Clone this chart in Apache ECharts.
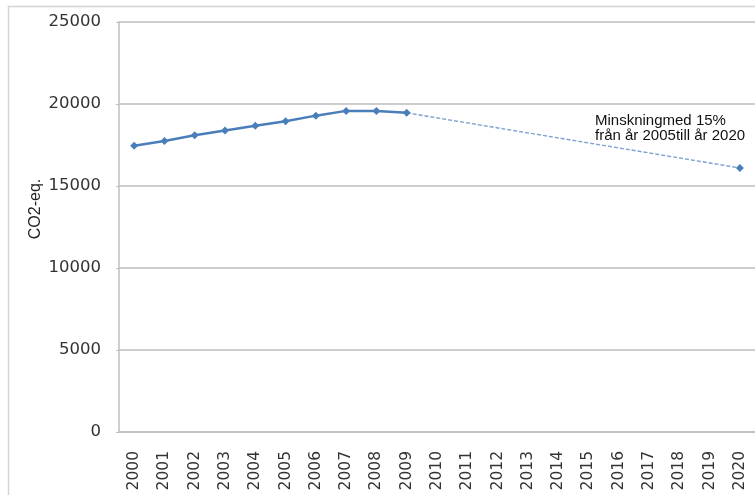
<!DOCTYPE html>
<html>
<head>
<meta charset="utf-8">
<script src="https://cdn.jsdelivr.net/npm/echarts@6/dist/echarts.min.js"></script>
<style>
  html, body { margin: 0; padding: 0; background: #ffffff; }
  #chart { width: 755px; height: 495px; }
</style>
</head>
<body>
<div id="chart"></div>
<script>
// Years on the category axis
const years = ['2000','2001','2002','2003','2004','2005','2006','2007','2008','2009','2010',
               '2011','2012','2013','2014','2015','2016','2017','2018','2019','2020'];
// Recorded emissions 2000-2009 (CO2-eq.)
const recorded = [17450, 17750, 18100, 18380, 18680, 18950, 19290, 19580, 19580, 19460];
// Target path: from the last recorded year to the 2020 target (15 % below 2005)
const targetYears = ['2009', '2020'];
const targetValues = [19460, 16100];
const yTicks = { min: 0, max: 25000, step: 5000 };
const yTitle = 'CO2-eq.';
const noteLines = ['Minskningmed 15%', 'från år 2005till år 2020'];

const solidData = years.map((y, i) => i < recorded.length ? recorded[i] : null);
const targetData = years.map(y => {
  const k = targetYears.indexOf(y);
  if (k < 0) return null;
  return k === 0 ? { value: targetValues[k], symbol: 'none' } : targetValues[k];
});

const lineBlue = '#4a7ebb';
const tickFont = 'DejaVu Sans';

const chart = echarts.init(document.getElementById('chart'));
chart.setOption({
  animation: false,
  backgroundColor: '#ffffff',
  grid: { left: 119, right: 0, top: 22, bottom: 63, containLabel: false },
  xAxis: {
    type: 'category',
    data: years,
    boundaryGap: true,
    axisLine: { lineStyle: { color: '#bfbfbf', width: 1.5 } },
    axisTick: { show: false },
    axisLabel: { rotate: 90, margin: 19, color: '#333', fontFamily: tickFont, fontSize: 15.5, interval: 0 }
  },
  yAxis: {
    type: 'value',
    min: yTicks.min, max: yTicks.max, interval: yTicks.step,
    axisLine: { show: true, lineStyle: { color: '#bfbfbf', width: 1.5 } },
    axisTick: { show: true, length: 3, lineStyle: { color: '#bfbfbf' } },
    axisLabel: { margin: 18, color: '#333', fontFamily: tickFont, fontSize: 16.5, formatter: v => String(v) },
    splitLine: { lineStyle: { color: '#bcbcbc', width: 1.5 } }
  },
  graphic: [
    {
      type: 'rect', silent: true, z: -1,
      shape: { x: 8.5, y: 6.5, width: 900, height: 700 },
      style: { fill: 'none', stroke: '#d4d4d4', lineWidth: 1.5 }
    },
    {
      type: 'text', x: 36, y: 209, rotation: Math.PI / 2,
      style: { text: yTitle, fill: '#222', fontFamily: 'Liberation Sans', fontSize: 16, align: 'center', verticalAlign: 'middle' }
    },
    {
      type: 'text', left: 595, top: 113,
      style: { text: noteLines.join('\n'), fill: '#111', fontFamily: 'Liberation Sans', fontSize: 15, lineHeight: 15 }
    }
  ],
  series: [
    {
      type: 'line',
      data: targetData,
      connectNulls: true,
      symbol: 'diamond', symbolSize: 8,
      lineStyle: { color: '#7fa2d1', width: 1.4, type: [4, 2] },
      itemStyle: { color: lineBlue },
      z: 2
    },
    {
      type: 'line',
      data: solidData,
      symbol: 'diamond', symbolSize: 8,
      lineStyle: { color: lineBlue, width: 2.5 },
      itemStyle: { color: lineBlue },
      z: 3
    }
  ]
});
</script>
</body>
</html>
